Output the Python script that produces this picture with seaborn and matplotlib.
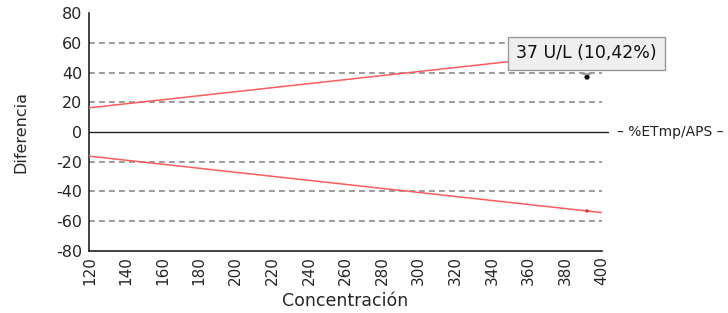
import matplotlib
matplotlib.use("Agg")
import matplotlib.pyplot as plt
import seaborn as sns
import pandas as pd

# Data
limit_conc = [120, 400]
upper_limit = [16.3, 54.3]
lower_limit = [-16.3, -54.3]
sample_conc = [392]
sample_diff = [37]
limit_point_conc = [392, 392]
limit_point_diff = [53.2, -53.2]
x_ticks = list(range(120, 401, 20))
y_ticks = list(range(-80, 81, 20))
grid_levels = [60, 40, 20, -20, -40, -60]
tooltip_text = "37 U/L (10,42%)"
legend_text = "\u2013 %ETmp/APS \u2013"

sns.set_style("white")
plt.rcParams['font.family'] = ['DejaVu Sans']

fig = plt.figure(figsize=(7.28, 3.13), dpi=100)
ax = fig.add_axes([0.1227, 0.199, 0.7038, 0.7586])

df_up = pd.DataFrame({"x": limit_conc, "y": upper_limit})
df_lo = pd.DataFrame({"x": limit_conc, "y": lower_limit})

for g in grid_levels:
    ax.axhline(g, color="#8a8a8a", lw=1.2, ls=(0, (3.5, 2.5)), zorder=1)

ax.plot([120, 403.5], [0, 0], color="#222222", lw=1.0, clip_on=False, zorder=2)

sns.lineplot(data=df_up, x="x", y="y", ax=ax, color="#ff5c5c", lw=1.1, zorder=3)
sns.lineplot(data=df_lo, x="x", y="y", ax=ax, color="#ff5c5c", lw=1.1, zorder=3)
sns.scatterplot(x=limit_point_conc, y=limit_point_diff, ax=ax, color="#ff2020",
                s=6, edgecolor="none", zorder=4)
sns.scatterplot(x=sample_conc, y=sample_diff, ax=ax, color="black",
                s=14, edgecolor="none", zorder=5)

ax.set_xlim(120, 400)
ax.set_ylim(-80, 80)
ax.set_xticks(x_ticks)
ax.set_yticks(y_ticks)
ax.set_xticklabels([str(v) for v in x_ticks], rotation=90, fontsize=11)
ax.set_yticklabels([str(v) for v in y_ticks], fontsize=11.5)
ax.tick_params(axis="x", direction="inout", length=6, width=1, color="#333333", pad=1)
ax.tick_params(axis="y", direction="out", length=4, width=1, color="#333333", pad=1)
ax.set_xlabel("Concentración", fontsize=12.5, labelpad=5)
ax.set_ylabel("Diferencia", fontsize=11.5, labelpad=20)

for side in ["top", "right"]:
    ax.spines[side].set_visible(False)
for side in ["left", "bottom"]:
    ax.spines[side].set_color("#222222")
    ax.spines[side].set_linewidth(1.2)

# tooltip
ax.annotate(tooltip_text, xy=(sample_conc[0], sample_diff[0] + 1.5),
            xytext=(sample_conc[0] - 0.3, 52.9), textcoords="data",
            ha="center", va="center", fontsize=12.5, color="#111111", zorder=10,
            bbox=dict(boxstyle="square,pad=0.45", fc="#efefef", ec="#9a9a9a", lw=1),
            arrowprops=dict(arrowstyle="wedge,tail_width=0.6,shrink_factor=0.5",
                            fc="#efefef", ec="#9a9a9a", lw=0.8))

fig.text(617 / 728, 1 - 132 / 313, legend_text, ha="left", va="center",
         fontsize=10, color="#222222")

fig.savefig("out.png", dpi=100)
